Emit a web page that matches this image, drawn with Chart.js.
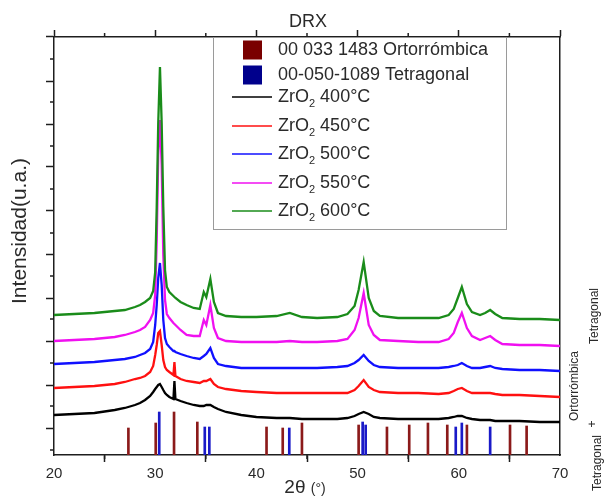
<!DOCTYPE html>
<html><head><meta charset="utf-8">
<script src="https://cdn.jsdelivr.net/npm/chart.js@4/dist/chart.umd.min.js"></script>
<style>html,body{margin:0;padding:0;background:#fff;}#wrap{width:616px;height:496px;}</style>
</head><body><div id="wrap"><canvas id="c" width="616" height="496"></canvas></div>
<script>
// ---- data ----
const angles = [20,22,24,26,27, 28,28.5,29,29.5,29.8, 30.0,30.15,30.3,30.47,30.64, 30.8,30.97,31.15,31.4,31.8, 31.9,32.0,32.5,33.1,33.8, 34.4,34.8,35.05,35.45,35.8, 36.2,37,38.5,40,42, 43.3,44.5,46,48,49, 49.7,50.1,50.6,51.1,51.6, 52.2,54,56,58,59.0, 59.5,59.9,60.3,60.8,61.3, 62.1,62.6,63.1,63.6,64.3, 66,68,70];
const int400 = [40,41,42,45,47, 50,52,55,59,63, 66,68,70,71,68, 65,62,60,58,56, 74,56,54,52,50, 49,49,50,50,48, 46,43,40,38,37, 37,36,36,36,37, 39,41,43,41,38, 37,36,36,36,37, 38,39,39,37,36, 35,35,35,34,34, 34,33,33];
const int450 = [67,68,69,71,73, 76,77,79,83,89, 100,110,122,124,110, 95,88,85,83,80, 93,79,76,74,73, 72,74,74,76,71, 68,66,64,63,62, 62,62,62,62,62, 65,69,75,68,65, 63,62,62,61,62, 64,66,67,64,62, 62,62,62,61,60, 60,59,58];
const int500 = [91,92,93,95,96, 98,100,102,106,113, 130,150,177,192,170, 135,117,111,108,104, 104,103,101,99,97, 96,99,101,107,97, 91,89,87,87,87, 87,87,87,88,89, 92,95,100,94,90, 88,87,87,87,88, 89,90,92,89,87, 87,88,89,87,86, 85,85,84];
const int550 = [114,115,116,118,120, 123,125,128,135,142, 160,215,300,335,290, 200,155,141,137,132, 131,130,125,120,119, 119,135,130,150,127, 117,114,113,113,113, 114,113,113,114,116, 125,137,162,130,120, 115,114,113,113,116, 122,133,142,127,119, 115,117,119,115,111, 110,110,109];
const int600 = [140,141,142,144,145, 148,150,153,157,164, 183,248,332,388,332, 248,185,168,163,159, 158,157,153,150,147, 146,163,158,176,153, 142,139,138,138,139, 142,138,137,138,141, 149,165,193,157,144, 139,137,137,137,140, 146,157,168,151,143, 140,142,145,141,137, 136,136,135];
const orthoAngles = [27.45,30.15,31.96,34.26,41.1,42.7,44.6,50.2,53.0,55.2,57.05,58.96,60.9,65.16,66.8];
const orthoInt    = [27,32,43,33,28,27,32,30,28,30,32,30,30,30,29];
const tetraAngles = [30.3,34.8,35.25,43.15,50.4,50.7,59.6,60.2,63.0];
const tetraInt    = [43,28,28,27,33,30,28,32,28];
const seriesLabels = ['ZrO₂ 400°C','ZrO₂ 450°C','ZrO₂ 500°C','ZrO₂ 550°C','ZrO₂ 600°C'];
const refLabels = ['00 033 1483 Ortorrómbica','00-050-1089 Tetragonal'];
const xTickValues = [20,30,40,50,60,70];
const xMinorTicks = [25,35,45,55,65];
const yMajorTicks = [27,70,114,157,201,244,288,331,374,418];
const yMinorTicks = [5,49,92,136,179,222,266,309,353,396];

// ---- styling ----
const FONT = "'Liberation Sans', Arial, sans-serif";
const AX = '#1e1e1e';
const TXT = '#2a2a2a';
const lineColors = ['#000000','#ff1010','#1010ff','#f010f0','#1a8c1a'];
const refColors = ['#8b1a1a','#1a1ac8'];
const legendRefColors = ['#7a0000','#00008c'];

const seriesData = [int400,int450,int500,int550,int600];
const lineSets = seriesData.map((arr,i)=>({
  type:'line', label:seriesLabels[i],
  data: angles.map((a,k)=>({x:a,y:arr[k]})),
  borderColor: lineColors[i], borderWidth: 2.3, pointRadius: 0, tension: 0, fill: false
})).reverse();
const barSets = [
  {type:'bar', label:refLabels[0], data: orthoAngles.map((a,k)=>({x:a,y:orthoInt[k]})), backgroundColor: refColors[0], barThickness: 2},
  {type:'bar', label:refLabels[1], data: tetraAngles.map((a,k)=>({x:a,y:tetraInt[k]})), backgroundColor: refColors[1], barThickness: 2}
];

function seg(ctx,x1,y1,x2,y2){ctx.beginPath();ctx.moveTo(x1,y1);ctx.lineTo(x2,y2);ctx.stroke();}

const decor = {
  id:'decor',
  afterDraw(chart){
    const ctx = chart.ctx, ca = chart.chartArea, sx = chart.scales.x, sy = chart.scales.y;
    ctx.save();
    ctx.strokeStyle = AX; ctx.lineWidth = 1.5;
    xMinorTicks.forEach(v=>{const p = sx.getPixelForValue(v); seg(ctx,p,ca.bottom,p,ca.bottom+4); seg(ctx,p,ca.top,p,ca.top-4);});
    yMinorTicks.forEach(v=>{const p = sy.getPixelForValue(v); seg(ctx,ca.left-4,p,ca.left,p);});
    // y title
    ctx.fillStyle = TXT; ctx.textAlign='center'; ctx.textBaseline='middle';
    ctx.save(); ctx.translate(20,231); ctx.rotate(-Math.PI/2);
    ctx.font = '21px '+FONT; ctx.fillText('Intensidad(u.a.)',0,0); ctx.restore();
    // x title
    ctx.textAlign='left'; ctx.textBaseline='alphabetic';
    ctx.font = '19px '+FONT; const w1 = ctx.measureText('2θ ').width;
    ctx.font = '14px '+FONT; const w2 = ctx.measureText('(°)').width;
    let xs = 305 - (w1+w2)/2;
    ctx.font = '19px '+FONT; ctx.fillText('2θ ',xs,493);
    ctx.font = '14px '+FONT; ctx.fillText('(°)',xs+w1,493);
    // right labels
    ctx.textAlign='center'; ctx.textBaseline='middle'; ctx.font='12px '+FONT;
    [['Tetragonal',595,316],['Ortorrómbica',575,386],['+',593,424],['Tetragonal',598,463]].forEach(([t,x,y])=>{
      ctx.save(); ctx.translate(x,y); ctx.rotate(-Math.PI/2); ctx.fillText(t,0,0); ctx.restore();
    });
    // legend
    ctx.fillStyle='#fff'; ctx.fillRect(213,37,294,193);
    ctx.strokeStyle='#9a9a9a'; ctx.lineWidth=1; ctx.strokeRect(213.5,37.5,293,192);
    ctx.textAlign='left'; ctx.textBaseline='middle';
    const refYs=[50,75];
    refLabels.forEach((t,i)=>{
      ctx.fillStyle=legendRefColors[i]; ctx.fillRect(243,refYs[i]-9.5,19,19);
      ctx.fillStyle=TXT; ctx.font='18px '+FONT; ctx.fillText(t,278,refYs[i]);
    });
    const lineYs=[97,126,154,183,211];
    seriesLabels.forEach((t,i)=>{
      const y=lineYs[i];
      ctx.strokeStyle=lineColors[i]; ctx.lineWidth=1.5; seg(ctx,232,y,272,y);
      const parts=t.split('₂');
      ctx.fillStyle=TXT; ctx.font='18px '+FONT;
      ctx.fillText(parts[0],278,y);
      let xx=278+ctx.measureText(parts[0]).width;
      ctx.font='11px '+FONT; ctx.fillText('2',xx,y+7);
      xx+=ctx.measureText('2').width;
      ctx.font='18px '+FONT; ctx.fillText(parts[1],xx,y);
    });
    ctx.restore();
  }
};

const tickSetter = vals => scale => { scale.ticks = vals.map(v=>({value:v})); };

new Chart(document.getElementById('c'), {
  type:'line',
  data:{datasets:[...lineSets, ...barSets]},
  options:{
    responsive:false, animation:false, devicePixelRatio:1,
    layout:{padding:0},
    plugins:{
      legend:{display:false}, tooltip:{enabled:false},
      title:{display:true, text:'DRX', color:TXT, font:{family:FONT,size:18,weight:'normal'}, padding:{top:11,bottom:0}}
    },
    scales:{
      x:{type:'linear', position:'bottom', min:20, max:70, offset:false,
         afterBuildTicks: tickSetter(xTickValues),
         afterFit: s=>{s.height=41;},
         ticks:{color:TXT, font:{family:FONT,size:15}, padding:3, maxRotation:0},
         grid:{drawOnChartArea:false, tickLength:7, tickColor:AX, tickWidth:1.5},
         border:{color:AX, width:1.5}},
      x2:{type:'linear', position:'top', min:20, max:70, offset:false,
         afterBuildTicks: tickSetter(xTickValues),
         afterFit: s=>{s.height=4.4;},
         ticks:{display:false},
         grid:{drawOnChartArea:false, tickLength:7, tickColor:AX, tickWidth:1.5},
         border:{color:AX, width:1.5}},
      y:{type:'linear', position:'left', min:0, max:418,
         afterBuildTicks: tickSetter(yMajorTicks),
         afterFit: s=>{s.width=54;},
         ticks:{display:false},
         grid:{drawOnChartArea:false, tickLength:8, tickColor:AX, tickWidth:1.5},
         border:{color:AX, width:1.5}},
      y2:{type:'linear', position:'right', min:0, max:418,
         afterFit: s=>{s.width=56;},
         ticks:{display:false},
         grid:{drawOnChartArea:false, drawTicks:false},
         border:{color:AX, width:1.5}}
    }
  },
  plugins:[decor]
});
</script>
</body></html>
